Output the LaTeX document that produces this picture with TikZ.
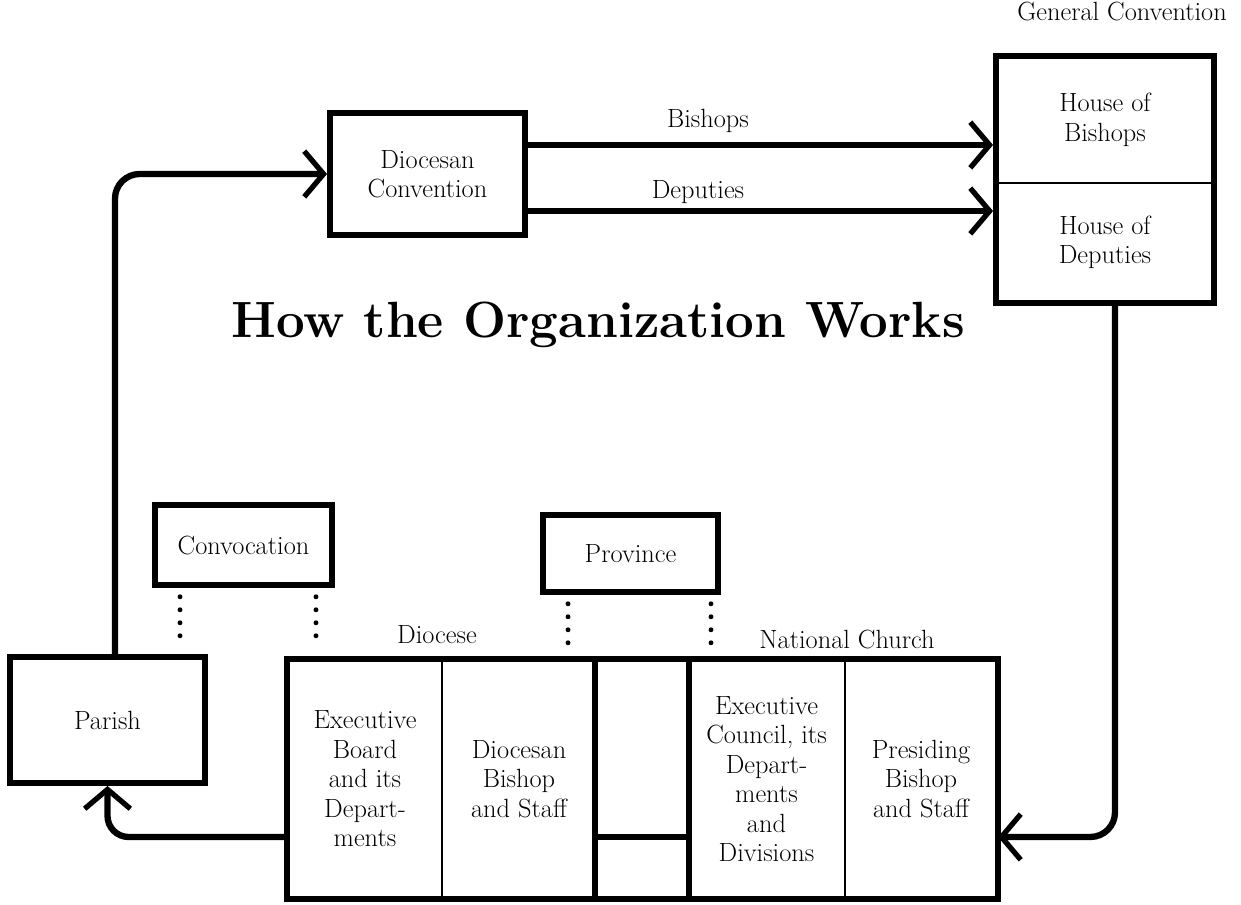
\documentclass[tikz,border=0pt]{standalone}
\usepackage{fontspec}
\usetikzlibrary{calc}
\usetikzlibrary{positioning}
\usetikzlibrary{arrows.meta}
\usetikzlibrary{fit}

\begin{document}
\begin{tikzpicture}[x=0.02cm,y=-0.02cm,
      font=\fontsize{15}{16.8}\selectfont,
      box style/.style={rectangle,draw=black,line width=3.4pt,align=center,inner sep=0pt},
      cell style/.style={rectangle,draw=black,line width=1.1pt,align=center,inner
        sep=0pt,minimum height=4.76cm},
      frame style/.style={draw=black,line width=3.4pt},
      link style/.style={line width=3.6pt,-{Straight Barb[length=11pt,width=26pt,line width=3pt]}},
      dot style/.style={line width=2.8pt,line cap=round,dash pattern=on 0pt off 7.4pt,
        shorten <=5pt,shorten >=6pt},
      label style/.style={anchor=base,inner sep=0pt}
      ]
      \useasboundingbox (0,0) rectangle (1241,904);

      \node[label style,font=\fontsize{29}{34}\selectfont\bfseries] (title) at (598,337) {How the Organization Works};

      \node[label style] (gclabel) at (1122,20) {General Convention};
      \node[cell style,minimum width=4.32cm,minimum height=2.52cm] (hob) at (1105,120) {House of\\Bishops};
      \node[cell style,minimum width=4.32cm,minimum height=2.38cm] (hod) at (1105,242.5) {House of\\Deputies};
      \node[frame style,fit=(hob)(hod),inner sep=0pt] (gc) {};

      \node[box style,minimum width=3.9cm,minimum height=2.44cm] (dconv) at (427.5,174) {Diocesan\\Convention};
      \node[box style,minimum width=3.54cm,minimum height=1.6cm] (convoc) at (243.5,545) {Convocation};
      \node[box style,minimum width=3.5cm,minimum height=1.54cm] (prov) at (630.5,553.5) {Province};
      \node[box style,minimum width=3.9cm,minimum height=2.52cm] (parish) at (107.5,720) {Parish};

      \node[cell style,minimum width=3.08cm] (exboard) at (365,779) {Executive\\Board\\and its\\Depart-\\ments};
      \node[cell style,minimum width=3.08cm] (dbishop) at (519,779) {Diocesan\\Bishop\\and Staff};
      \node[cell style,minimum width=1.84cm,minimum height=3.52cm] (gapup) at (642,748) {};
      \node[cell style,minimum width=1.84cm,minimum height=1.24cm] (gaplow) at (642,867) {};
      \node[cell style,minimum width=3.14cm] (excouncil) at (766.5,779) {Executive\\Council, its\\Depart-\\ments\\and\\Divisions};
      \node[cell style,minimum width=3.04cm] (pbishop) at (921,779) {Presiding\\Bishop\\and Staff};

      \draw[frame style] (exboard.north west) rectangle (pbishop.south east);
      \draw[frame style] (gapup.north west) -- (gaplow.south west);
      \draw[frame style] (gapup.north east) -- (gaplow.south east);
      \draw[frame style] (gapup.south west) -- (gapup.south east);

      \node[label style] (diocese) at (437,643) {Diocese};
      \node[label style] (natchurch) at (847,648) {National Church};
      \node[label style] (bishops) at (708,127) {Bishops};
      \node[label style] (deputies) at (698,198) {Deputies};

      \draw[link style] ([yshift=0.58cm]dconv.east) coordinate (b1) -- (b1 -| gc.west);
      \draw[link style] ([yshift=-0.74cm]dconv.east) coordinate (d1) -- (d1 -| gc.west);
      \coordinate (up) at ([xshift=0.15cm]parish.north);
      \draw[link style,rounded corners=14pt] (up) -- (up |- dconv.west) -- (dconv.west);
      \draw[link style,rounded corners=12pt] (exboard.west |- gapup.south) -- (parish.south |- gapup.south) -- (parish.south);
      \coordinate (down) at ([xshift=0.2cm]gc.south);
      \draw[link style,rounded corners=14pt] (down) -- (down |- gapup.south) -- (pbishop.east |- gapup.south);

      \foreach \s/\n in {-1.27cm/convoc,1.45cm/convoc,-1.25cm/prov,1.61cm/prov} {
        \coordinate (dt) at ([xshift=\s]\n.south);
        \draw[dot style] (dt) -- (dt |- exboard.north);
      }
    \end{tikzpicture}
\end{document}
